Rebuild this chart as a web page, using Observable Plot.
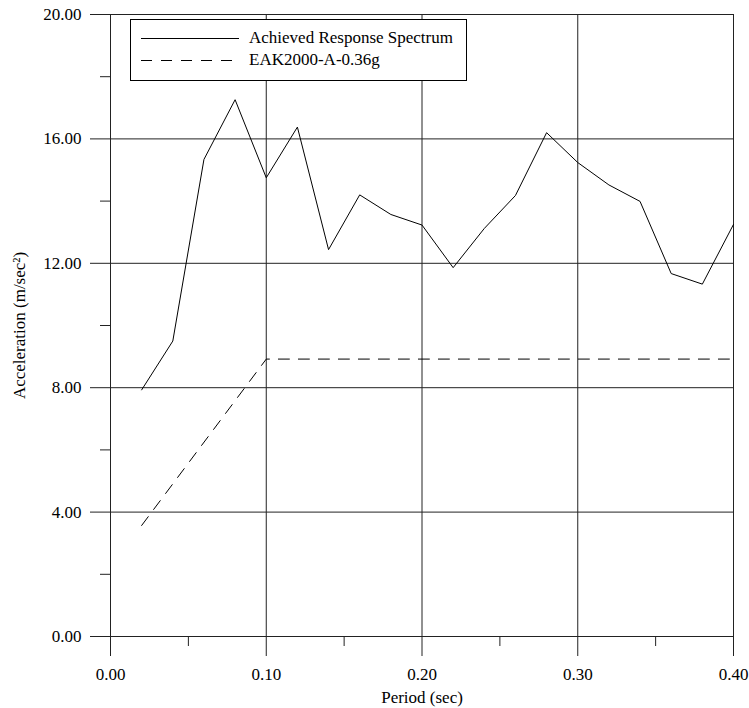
<!DOCTYPE html>
<html>
<head>
<meta charset="utf-8">
<script src="https://cdn.jsdelivr.net/npm/d3@7"></script>
<script src="https://cdn.jsdelivr.net/npm/@observablehq/plot@0.6"></script>
<style>
  html, body { margin: 0; padding: 0; background: #fff; }
  #wrap { position: relative; width: 749px; height: 708px; font-family: "Liberation Serif", "Times New Roman", serif; }
  #legend { position: absolute; left: 130px; top: 19px; width: 335px; height: 60px; border: 1px solid #000; background: #fff; font-size: 17px; }
  #legend .row { position: absolute; left: 0; height: 20px; display: flex; align-items: center; }
  #legend svg { display: block; }
  #legend span { margin-left: 10px; white-space: nowrap; color: #000; }
</style>
</head>
<body>
<div id="wrap"></div>
<script>
// Period (sec) values of the achieved spectrum
const periods = [0.02, 0.04, 0.06, 0.08, 0.10, 0.12, 0.14, 0.16, 0.18, 0.20,
                 0.22, 0.24, 0.26, 0.28, 0.30, 0.32, 0.34, 0.36, 0.38, 0.40];
// Achieved Response Spectrum, acceleration (m/sec²)
const achieved = [7.93, 9.50, 15.34, 17.26, 14.75, 16.38, 12.44, 14.20, 13.57, 13.23,
                  11.86, 13.12, 14.18, 16.20, 15.24, 14.52, 13.99, 11.67, 11.33, 13.25];
// EAK2000-A-0.36g design spectrum
const eakPeriods = [0.02, 0.10, 0.40];
const eakValues = [3.57, 8.92, 8.92];

const seriesNames = ["Achieved Response Spectrum", "EAK2000-A-0.36g"];
const xMajor = [0, 0.1, 0.2, 0.3, 0.4];
const xMinor = [0.05, 0.15, 0.25, 0.35];
const yMajor = [0, 4, 8, 12, 16, 20];
const yMinor = [2, 6, 10, 14, 18];
const xLabel = "Period (sec)";
const yLabel = "Acceleration (m/sec²)";

const achievedData = periods.map((p, i) => ({period: p, acc: achieved[i]}));
const eakData = eakPeriods.map((p, i) => ({period: p, acc: eakValues[i]}));
const fmt = d => d.toFixed(2);

const chart = Plot.plot({
  width: 749,
  height: 708,
  marginLeft: 110,
  marginRight: 16,
  marginTop: 14,
  marginBottom: 72,
  style: {fontFamily: '"Liberation Serif", "Times New Roman", serif', fontSize: "17px", color: "#000", background: "transparent", overflow: "visible"},
  x: {domain: [0, 0.4]},
  y: {domain: [0, 20]},
  marks: [
    Plot.ruleX(xMajor, {stroke: "#222", strokeWidth: 1}),
    Plot.ruleY(yMajor, {stroke: "#222", strokeWidth: 1}),
    Plot.axisX({ticks: xMajor, tickSize: 20, tickPadding: 11, tickFormat: fmt, stroke: "#222", strokeOpacity: 1,
                label: xLabel, labelAnchor: "center", labelArrow: "none", labelOffset: 66, anchor: "bottom"}),
    Plot.axisX({ticks: xMinor, tickSize: 10, tickFormat: () => "", stroke: "#222", strokeOpacity: 1, label: null, anchor: "bottom"}),
    Plot.axisY({ticks: yMajor, tickSize: 20, tickPadding: 9, tickFormat: fmt, stroke: "#222", strokeOpacity: 1,
                label: yLabel, labelAnchor: "center", labelArrow: "none", labelOffset: 98, anchor: "left"}),
    Plot.axisY({ticks: yMinor, tickSize: 10, tickFormat: () => "", stroke: "#222", strokeOpacity: 1, label: null, anchor: "left"}),
    Plot.line(eakData, {x: "period", y: "acc", stroke: "#000", strokeWidth: 1, strokeDasharray: "11,9"}),
    Plot.line(achievedData, {x: "period", y: "acc", stroke: "#000", strokeWidth: 1})
  ]
});

const wrap = document.getElementById("wrap");
wrap.appendChild(chart);

// Legend (inside the plot area, top-left)
const legend = document.createElement("div");
legend.id = "legend";
const dashes = [null, "11,9"];
seriesNames.forEach((name, i) => {
  const row = document.createElement("div");
  row.className = "row";
  row.style.top = (i === 0 ? 7.5 : 29.5) + "px";
  row.style.left = "10px";
  const svg = d3.create("svg").attr("width", 98).attr("height", 20);
  svg.append("line").attr("x1", 0).attr("x2", 98).attr("y1", 10.5).attr("y2", 10.5)
    .attr("stroke", "#000").attr("stroke-width", 1)
    .attr("stroke-dasharray", dashes[i]);
  row.appendChild(svg.node());
  const span = document.createElement("span");
  span.textContent = name;
  row.appendChild(span);
  legend.appendChild(row);
});
wrap.appendChild(legend);
</script>
</body>
</html>
